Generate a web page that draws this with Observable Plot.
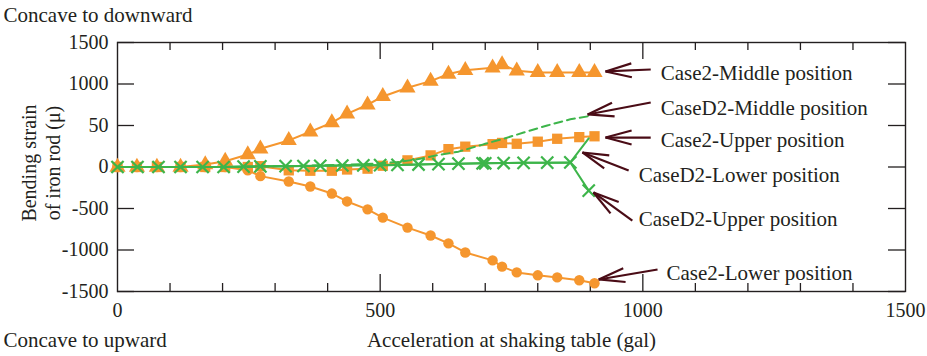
<!DOCTYPE html>
<html><head><meta charset="utf-8">
<script src="https://cdn.jsdelivr.net/npm/d3@7"></script>
<script src="https://cdn.jsdelivr.net/npm/@observablehq/plot@0.6"></script>
<style>body{margin:0;background:#fff}</style>
</head><body><div id="chart"></div>
<script>
// ---- Data ----
const case2X = [0, 37, 75, 120, 167, 205, 248, 272, 326, 367, 408, 437, 476, 505, 552, 596, 630, 662, 714, 732, 760, 800, 837, 879, 908];
const case2Middle = [0, 0, 0, 0, 30, 70, 150, 220, 320, 425, 535, 640, 750, 850, 955, 1035, 1120, 1165, 1195, 1235, 1160, 1140, 1140, 1140, 1140];
const case2Upper = [0, 0, 0, 0, 0, 0, 0, 10, -40, -45, -45, -30, -20, 15, 80, 140, 215, 245, 275, 290, 280, 305, 340, 360, 370];
const case2Lower = [0, 0, 0, 0, 0, 0, -40, -110, -175, -235, -320, -415, -510, -610, -730, -825, -920, -1030, -1125, -1200, -1270, -1305, -1330, -1365, -1400];

const d2X = [0, 38, 78, 120, 162, 202, 240, 272, 320, 354, 386, 428, 468, 500, 533, 573, 611, 649, 695, 700, 735, 773, 818, 862, 897];
const d2Middle = [0, 0, 0, 0, 0, 0, 0, 5, 10, 15, 20, 25, 35, 45, 60, 95, 145, 185, 270, 280, 340, 415, 500, 575, 612];
const d2Upper = [0, 0, 0, 0, 0, 0, 5, 8, 10, 12, 15, 18, 20, 22, 25, 30, 35, 40, 45, 45, 48, 50, 52, 55, -285];
const d2Lower = [0, 0, 0, 0, 0, 0, 5, 8, 10, 12, 15, 18, 20, 22, 25, 30, 35, 40, 45, 45, 48, 50, 52, 55, 345];

const xLabelTicks = [0, 500, 1000, 1500];
const xMinorTicks = [100, 200, 300, 400, 600, 700, 800, 900, 1100, 1200, 1300, 1400];
const xMajorTicks = [500, 1000];
const yTicks = [-1500, -1000, -500, 0, 500, 1000, 1500];
const yTickLabels = ["-1500", "-1000", "-500", "0", "50", "1000", "1500"];

// annotations
const annLabels = ["Case2-Middle position", "CaseD2-Middle position", "Case2-Upper position", "CaseD2-Lower position", "CaseD2-Upper position", "Case2-Lower position"];
const annLabelX = [1034, 1034, 1034, 992, 992, 1045];
const annLabelY = [1127, 710, 319, -102, -633, -1283];
const arrowTailX = [1015, 1015, 1015, 973, 980, 1028];
const arrowTailY = [1175, 777, 355, -42, -645, -1235];
const arrowHeadX = [929, 895, 929, 885, 906, 916];
const arrowHeadY = [1151, 633, 355, 175, -307, -1355];

// ---- Layout / styles ----
const W = 927, H = 356, mL = 117, mR = 22, mT = 42, mB = 65;
const frameW = W - mL - mR, frameH = H - mT - mB;
const xDomain = [0, 1500], yDomain = [-1500, 1500];
const orange = "#f5962e", green = "#3db54a", maroon = "#4a0c16", ink = "#231f20";
const font = "'Liberation Serif', 'Times New Roman', serif";

const rows = (xs, ys) => xs.map((x, i) => ({x, y: ys[i]}));
const c2M = rows(case2X, case2Middle), c2U = rows(case2X, case2Upper), c2L = rows(case2X, case2Lower);
const dM = rows(d2X, d2Middle), dU = rows(d2X, d2Upper), dL = rows(d2X, d2Lower);

const ann = annLabels.map((t, i) => ({t, x: annLabelX[i], y: annLabelY[i]}));
const shafts = arrowHeadX.map((hx, i) => ({x1: arrowTailX[i], y1: arrowTailY[i], x2: hx, y2: arrowHeadY[i]}));
const kx = frameW / (xDomain[1] - xDomain[0]), ky = frameH / (yDomain[1] - yDomain[0]);
const wingLen = 27, wingAng = 15 * Math.PI / 180;
const wings = [];
shafts.forEach(s => {
  const a = Math.atan2(-(s.y1 - s.y2) * ky, (s.x1 - s.x2) * kx);
  for (const sg of [-1, 1]) {
    const b = a + sg * wingAng;
    wings.push({x1: s.x2, y1: s.y2, x2: s.x2 + wingLen * Math.cos(b) / kx, y2: s.y2 - wingLen * Math.sin(b) / ky});
  }
});

const chart = Plot.plot({
  width: W, height: H,
  marginLeft: mL, marginRight: mR, marginTop: mT, marginBottom: mB,
  x: {domain: xDomain},
  y: {domain: yDomain},
  style: {fontFamily: font, fontSize: "20px", color: ink, background: "white"},
  marks: [
    Plot.axisX(xLabelTicks, {tickSize: 0, tickPadding: 11, tickFormat: d => String(d), fontSize: 20, fill: ink, label: null}),
    Plot.axisY(yTicks, {tickSize: 0, tickPadding: 9, tickFormat: d => yTickLabels[yTicks.indexOf(d)], fontSize: 20, fill: ink, label: null}),
    // inward ticks
    Plot.tickX(xMinorTicks, {x: d => d, insetTop: frameH - 8, stroke: ink, strokeWidth: 1.3}),
    Plot.tickX(xMinorTicks, {x: d => d, insetBottom: frameH - 8, stroke: ink, strokeWidth: 1.3}),
    Plot.tickX(xMajorTicks, {x: d => d, insetTop: frameH - 17, stroke: ink, strokeWidth: 1.3}),
    Plot.tickX(xMajorTicks, {x: d => d, insetBottom: frameH - 17, stroke: ink, strokeWidth: 1.3}),
    Plot.tickY(yTicks, {y: d => d, insetRight: frameW - 17, stroke: ink, strokeWidth: 1.3}),
    Plot.tickY(yTicks, {y: d => d, insetLeft: frameW - 17, stroke: ink, strokeWidth: 1.3}),
    Plot.frame({stroke: ink, strokeWidth: 1.4}),
    // Case2 series (orange)
    Plot.line(c2M, {x: "x", y: "y", stroke: orange, strokeWidth: 2}),
    Plot.line(c2U, {x: "x", y: "y", stroke: orange, strokeWidth: 2}),
    Plot.line(c2L, {x: "x", y: "y", stroke: orange, strokeWidth: 2}),
    Plot.dot(c2M, {x: "x", y: "y", symbol: "triangle", r: 6, fill: orange}),
    Plot.dot(c2U, {x: "x", y: "y", symbol: "square", r: 5.8, fill: orange}),
    Plot.dot(c2L, {x: "x", y: "y", symbol: "circle", r: 5.2, fill: orange}),
    // CaseD2 series (green)
    Plot.line(dM, {x: "x", y: "y", stroke: green, strokeWidth: 2, strokeDasharray: "8,5"}),
    Plot.line(dL, {x: "x", y: "y", stroke: green, strokeWidth: 2}),
    Plot.line(dU, {x: "x", y: "y", stroke: green, strokeWidth: 2}),
    Plot.dot(dU, {x: "x", y: "y", symbol: "times", r: 5.6, stroke: green, strokeWidth: 2.2}),
    // annotation arrows
    Plot.link(shafts, {x1: "x1", y1: "y1", x2: "x2", y2: "y2", stroke: maroon, strokeWidth: 2.2}),
    Plot.link(wings, {x1: "x1", y1: "y1", x2: "x2", y2: "y2", stroke: maroon, strokeWidth: 2.2}),
    Plot.text(ann, {x: "x", y: "y", text: "t", textAnchor: "start", fontSize: 21, fill: ink}),
    // axis titles and side notes
    Plot.text(["Bending strain\nof iron rod (\u03bc)"], {frameAnchor: "left", textAnchor: "middle", lineAnchor: "middle", rotate: -90, dx: -77, dy: -4, lineHeight: 1.2, fontSize: 20, fill: ink}),
    Plot.text(["Acceleration at shaking table (gal)"], {frameAnchor: "bottom", textAnchor: "middle", lineAnchor: "middle", dy: 49, fontSize: 21, fill: ink}),
    Plot.text(["Concave to downward"], {frameAnchor: "top-left", textAnchor: "start", lineAnchor: "middle", dx: -114, dy: -27, fontSize: 21, fill: ink}),
    Plot.text(["Concave to upward"], {frameAnchor: "bottom-left", textAnchor: "start", lineAnchor: "middle", dx: -114, dy: 49, fontSize: 21, fill: ink})
  ]
});
document.getElementById("chart").appendChild(chart);
</script>
</body></html>
